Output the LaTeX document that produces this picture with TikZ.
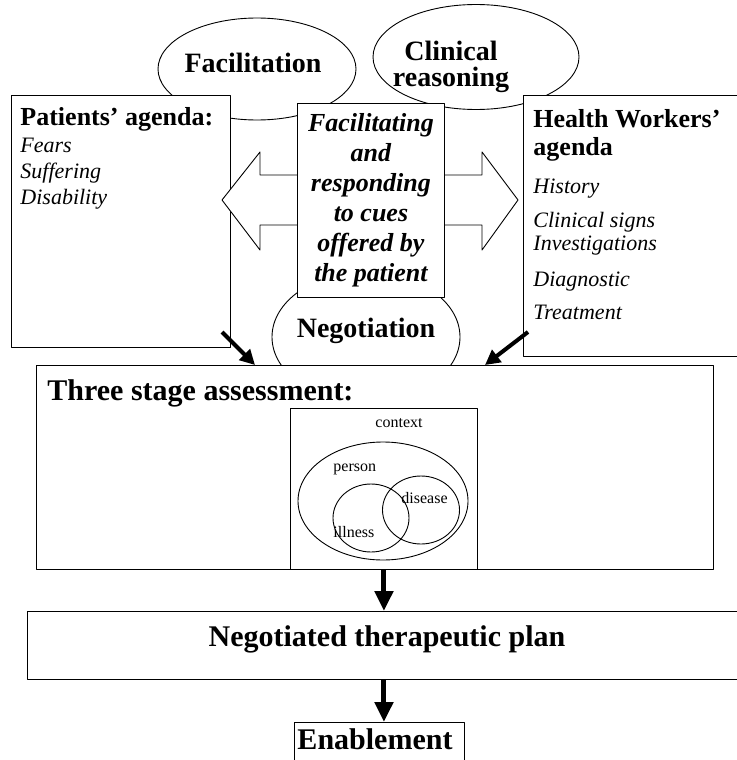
\documentclass[tikz,border=0pt]{standalone}
\usepackage{fontspec}
\setmainfont{Liberation Serif}
\usetikzlibrary{shapes.geometric,arrows.meta}
\begin{document}
\begin{tikzpicture}[x=1pt,y=-1pt,line width=0.9pt,line join=round,
  >={Triangle[length=20pt,width=18pt]},
  box/.style={draw,fill=white,inner sep=0pt,anchor=north west},
  oval/.style={ellipse,draw,fill=white,inner sep=0pt},
  fat/.style={->,line width=5pt},
  slim/.style={-{Triangle[length=15pt,width=15pt]},line width=4pt},
  hd/.style={font=\fontsize{28}{28}\selectfont\bfseries,inner sep=0pt,anchor=base},
  ttl/.style={font=\fontsize{30}{30}\selectfont\bfseries,inner sep=0pt},
  sub/.style={font=\fontsize{26}{30}\selectfont\bfseries,inner sep=0pt,anchor=base west},
  itm/.style={font=\fontsize{22}{26}\selectfont\itshape,inner sep=0pt,anchor=base west},
  lbl/.style={font=\fontsize{16}{16}\selectfont,inner sep=0pt,anchor=base west}]
\useasboundingbox (0,0) rectangle (736,760);
% the three ovals, partly hidden by the boxes
\node[oval,minimum width=198pt,minimum height=102pt] (fac) at (257,69) {};
\node[oval,minimum width=206pt,minimum height=105pt] (cr) at (476,57) {};
\node[oval,minimum width=188pt,minimum height=130pt] (neg) at (366,337) {};
\node[hd] (fact) at (253,72) {Facilitation};
\node[hd] (crt) at (451,60) {Clinical};
\node[hd] (crt2) at (451,86) {reasoning};
\node[hd] (negt) at (366,337) {Negotiation};
% the two agendas
\node[box,minimum width=219pt,minimum height=252pt] (pat) at (11,95) {};
\node[box,minimum width=230pt,minimum height=261pt] (hw) at (523,95) {};
\node[sub] (patt) at (20,125) {Patients' agenda:};
\foreach \t/\y in {Fears/152,Suffering/178,Disability/204}
  \node[itm] (p-\y) at (20,\y) {\t};
\node[sub] (hwt) at (533,127) {Health Workers'};
\node[sub] (hwt2) at (533,155) {agenda};
\foreach \t/\y in {History/193,Clinical signs/227,Investigations/250,Diagnostic/286,Treatment/319}
  \node[itm] (h-\y) at (533,\y) {\t};
% double arrow behind the middle box
\draw[fill=white] (222,200) -- (260,152) -- (260,175) -- (482,175) -- (482,152)
  -- (518,200) -- (482,250) -- (482,225) -- (260,225) -- (260,250) -- cycle;
\node[box,minimum width=147pt,minimum height=194pt,align=center,
  font=\fontsize{26}{30}\selectfont\bfseries\itshape] (cues) at (297,103)
  {Facilitating\\and\\responding\\to cues\\offered by\\the patient};
% assessment
\node[box,minimum width=677pt,minimum height=204pt] (stage) at (36,365) {};
\node[ttl,anchor=base west] (staget) at (47,400) {Three stage assessment:};
\node[box,minimum width=187pt,minimum height=161pt] (ctx) at (290,408) {};
\node[oval,minimum width=170pt,minimum height=118pt] (pers) at (383,501) {};
\node[oval,fill=none,minimum width=76pt,minimum height=68pt] (ill) at (371,518) {};
\node[oval,fill=none,minimum width=77pt,minimum height=68pt] (dis) at (421,510) {};
\node[lbl] (ctxt) at (375,427) {context};
\node[lbl] (perst) at (333,471) {person};
\node[lbl] (dist) at (401,503) {disease};
\node[lbl] (illt) at (333,537) {illness};
% plan and enablement
\node[box,minimum width=723pt,minimum height=68pt] (plan) at (27,611) {};
\node[ttl,anchor=base] (plant) at (387,646) {Negotiated therapeutic plan};
\node[box,minimum width=170pt,minimum height=53pt] (enab) at (294,722) {};
\node[ttl,anchor=base] (enabt) at (375,749) {Enablement};
% arrows
\coordinate (pin) at (222,332);
\coordinate (pout) at (255,365);
\coordinate (hin) at (528,332);
\coordinate (hout) at (485,365);
\draw[slim] (pin) -- (pout);
\draw[slim] (hin) -- (hout);
\draw[fat] (ctx.south) -- (ctx.south |- plan.north);
\draw[fat] (plan.south -| ctx.south) -- (enab.north -| ctx.south);
\end{tikzpicture}
\end{document}
